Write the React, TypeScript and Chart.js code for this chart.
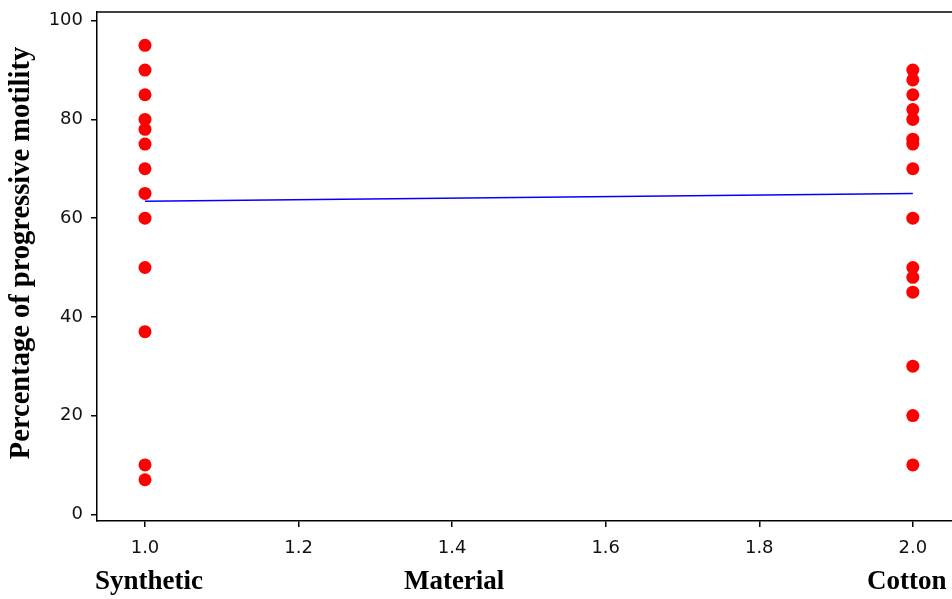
import React, { useEffect, useRef } from "react";
import { Chart, registerables } from "chart.js";

Chart.register(...registerables);

const syntheticX = 1.0;
const cottonX = 2.0;
const syntheticValues = [95, 90, 85, 80, 78, 75, 70, 65, 60, 50, 37, 10, 7];
const cottonValues = [90, 88, 85, 82, 80, 76, 75, 70, 60, 50, 48, 45, 30, 20, 10];
const fitX = [1.0, 2.0];
const fitY = [63.4, 65.0];
const xTicks = [1.0, 1.2, 1.4, 1.6, 1.8, 2.0];
const yTicks = [0, 20, 40, 60, 80, 100];
const yTitle = "Percentage of progressive motility";
const xTitle = "Material";
const groupLabels = ["Synthetic", "Cotton"];

const textPlugin = {
  id: "texts",
  afterDraw(chart: any) {
    const { ctx, chartArea, scales } = chart;
    ctx.save();
    ctx.strokeStyle = "#000";
    ctx.lineWidth = 1.5;
    ctx.beginPath();
    ctx.moveTo(chartArea.left, chartArea.top);
    ctx.lineTo(chartArea.right, chartArea.top);
    ctx.stroke();

    ctx.fillStyle = "#000";
    ctx.font = "bold 27px 'Liberation Serif', serif";
    ctx.textAlign = "center";
    ctx.textBaseline = "middle";
    const yb = 582;
    ctx.fillText(groupLabels[0], scales.x.getPixelForValue(syntheticX) + 4, yb);
    ctx.fillText(xTitle, scales.x.getPixelForValue(1.4) + 2, yb);
    ctx.fillText(groupLabels[1], scales.x.getPixelForValue(cottonX) - 6, yb);

    ctx.font = "bold 28.5px 'Liberation Serif', serif";
    ctx.translate(22, 253);
    ctx.rotate(-Math.PI / 2);
    ctx.fillText(yTitle, 0, 0);
    ctx.restore();
  },
};

export default function App() {
  const ref = useRef<HTMLCanvasElement>(null);
  useEffect(() => {
    document.body.style.margin = "0";
    const canvas = ref.current!;
    const chart = new Chart(canvas, {
      type: "scatter",
      data: {
        datasets: [
          {
            label: "fit",
            type: "line",
            data: fitX.map((x, i) => ({ x, y: fitY[i] })),
            borderColor: "#0000ff",
            borderWidth: 1.5,
            pointRadius: 0,
            fill: false,
            order: 2,
          } as any,
          {
            label: "Synthetic",
            data: syntheticValues.map((y) => ({ x: syntheticX, y })),
            backgroundColor: "#ff0000",
            borderColor: "#ff0000",
            pointRadius: 6.5,
            borderWidth: 0,
            order: 1,
          },
          {
            label: "Cotton",
            data: cottonValues.map((y) => ({ x: cottonX, y })),
            backgroundColor: "#ff0000",
            borderColor: "#ff0000",
            pointRadius: 6.5,
            borderWidth: 0,
            order: 1,
          },
        ],
      },
      options: {
        responsive: false,
        animation: false,
        layout: { padding: { top: 12, right: 15, left: 0, bottom: 0 } },
        plugins: { legend: { display: false }, tooltip: { enabled: false } },
        scales: {
          x: {
            type: "linear",
            min: 0.9375,
            max: 2.094,
            afterBuildTicks: (s: any) => {
              s.ticks = xTicks.map((v) => ({ value: v }));
            },
            afterFit: (s: any) => {
              s.height = 78;
              s.paddingLeft = 0;
              s.paddingRight = 0;
            },
            ticks: {
              color: "#111",
              font: { family: "'DejaVu Sans'", size: 18 },
              padding: 11,
              callback: (v: any) => Number(v).toFixed(1),
            },
            grid: { drawOnChartArea: false, drawTicks: true, tickLength: 6, color: "#000", lineWidth: 1.5 },
            border: { display: true, color: "#000", width: 1.5 },
          },
          y: {
            type: "linear",
            min: -1.36,
            max: 101.76,
            afterBuildTicks: (s: any) => {
              s.ticks = yTicks.map((v) => ({ value: v }));
            },
            afterFit: (s: any) => {
              s.width = 97;
              s.paddingTop = 0;
              s.paddingBottom = 0;
            },
            ticks: {
              color: "#111",
              font: { family: "'DejaVu Sans'", size: 18 },
              padding: 8,
            },
            grid: { drawOnChartArea: false, drawTicks: true, tickLength: 6, color: "#000", lineWidth: 1.5 },
            border: { display: true, color: "#000", width: 1.5 },
          },
        },
      },
      plugins: [textPlugin],
    });
    return () => chart.destroy();
  }, []);
  return (
    <div style={{ position: "absolute", left: 0, top: 0, width: 952, height: 599, overflow: "hidden", background: "#fff" }}>
      <canvas ref={ref} width={1000} height={599} style={{ width: 1000, height: 599, display: "block" }} />
    </div>
  );
}
